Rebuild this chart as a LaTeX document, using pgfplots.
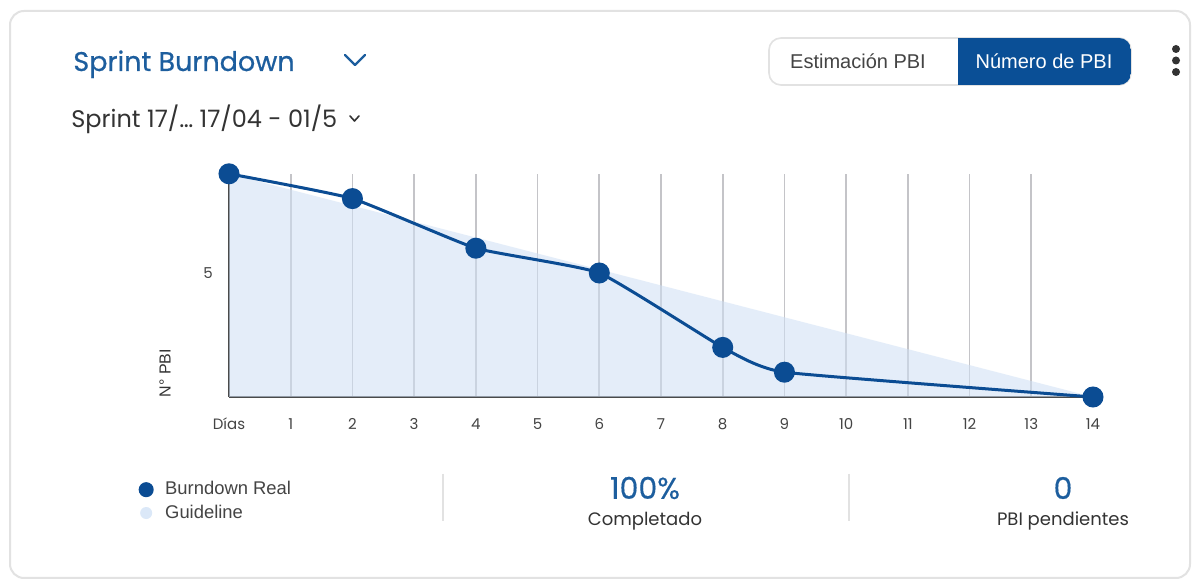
\documentclass[border=0pt]{standalone}
\usepackage{pgfplots}
\pgfplotsset{compat=1.18}
\usepackage{fontspec}
\setmainfont{Poppins}
\newfontfamily\arial{Liberation Sans}
\definecolor{realblue}{HTML}{0B4C93}
\definecolor{titleblue}{HTML}{1D5E9E}
\definecolor{toggleblue}{HTML}{0A4F96}
\definecolor{guidefill}{HTML}{CFE0F5}
\definecolor{gridgray}{HTML}{C4C4C8}
\definecolor{axisgray}{HTML}{4A4A4A}
\definecolor{txtgray}{HTML}{444444}
\definecolor{darktxt}{HTML}{333333}
\definecolor{cardline}{HTML}{E2E2E2}

\begin{document}
\begin{tikzpicture}[x=0.5pt,y=0.5pt]
\path[use as bounding box] (0,0) rectangle (1194,-581);
\fill[white] (0,0) rectangle (1194,-581);
\draw[cardline, line width=1pt, rounded corners=7pt] (10,-11) rectangle (1190,-578);

% header
\node[anchor=base west, inner sep=0, text=titleblue, font=\fontsize{13.5}{16}\selectfont\addfontfeature{FakeBold=0.6}] at (73,-71) {Sprint Burndown};
\draw[titleblue, line width=1.1pt, line cap=round, line join=round] (345,-55) -- (355,-65) -- (365,-55);
\node[anchor=base west, inner sep=0, text=darktxt, font=\fontsize{12}{14}\selectfont] at (71,-128) {Sprint 17/… 17/04 - 01/5};
\draw[darktxt, line width=0.8pt, line cap=round, line join=round] (350,-116) -- (354.5,-121) -- (359,-116);

% toggle
\draw[cardline, line width=0.8pt, rounded corners=6pt, fill=white] (769,-38) rectangle (1131,-85);
\begin{scope}
  \clip[rounded corners=6pt] (769,-38) rectangle (1131,-85);
  \fill[toggleblue] (958,-38) rectangle (1131,-85);
\end{scope}
\node[text=txtgray, font=\arial\fontsize{10}{12}\selectfont] at (858,-61) {Estimación PBI};
\node[text=white, font=\arial\fontsize{10}{12}\selectfont] at (1044,-61) {Número de PBI};
\fill[darktxt] (1176,-49) circle (2pt) (1176,-60.5) circle (2pt) (1176,-72) circle (2pt);

% summary
\draw[cardline, line width=0.8pt] (443,-474) -- (443,-521) (849,-474) -- (849,-521);
\node[text=titleblue, font=\fontsize{15}{18}\selectfont\addfontfeature{FakeBold=0.4}] at (645,-488) {100\%};
\node[text=darktxt, font=\fontsize{9}{11}\selectfont] at (645,-521) {Completado};
\node[text=titleblue, font=\fontsize{15}{18}\selectfont\addfontfeature{FakeBold=0.4}] at (1063,-488) {0};
\node[text=darktxt, font=\fontsize{9}{11}\selectfont] at (1063,-521) {PBI pendientes};

\node[rotate=90, text=darktxt, font=\arial\fontsize{8}{10}\selectfont] at (165,-373) {N° PBI};

\begin{axis}[
  at={(114.5pt,-198.5pt)}, anchor=south west,
  scale only axis, width=432pt, height=111.6pt,
  xmin=0, xmax=14, ymin=0, ymax=9, clip=false,
  axis lines*=left,
  axis line style={axisgray, line width=0.9pt},
  major tick length=0,
  xtick={1,...,13},
  extra x ticks={0,14}, extra x tick labels={Días,14},
  extra x tick style={grid=none},
  xmajorgrids, grid style={gridgray, line width=0.8pt},
  ytick={5},
  ticklabel style={font=\fontsize{7.5}{9}\selectfont, text=txtgray},
  xticklabel style={anchor=center, yshift=-13.5pt},
  yticklabel style={anchor=center, xshift=-10.5pt},
  /pgf/number format/assume math mode=true,
  reverse legend,
  legend cell align=left,
  legend style={draw=none, fill=none, inner sep=0pt,
    at={(-0.105,-0.359)}, anchor=north west,
    font=\arial\fontsize{9.2}{11}\selectfont, text=txtgray,
    row sep=-0.5pt},
]
\addplot[draw=none, fill=guidefill, fill opacity=0.55,
  legend image code/.code={\fill[guidefill!75, fill opacity=1] (0,0) circle (3pt); \path[draw=none, fill=none] (-3pt,0) -- (7.5pt,0);}]
  coordinates {(0,9) (14,0)} \closedcycle;
\addlegendentry{Guideline}
\addplot[realblue, line width=1.5pt, mark=*, mark size=4.5pt, smooth, tension=0.25,
  legend image code/.code={\fill[realblue] (0,0) circle (3pt); \path[draw=none, fill=none] (-3pt,0) -- (7.5pt,0);}]
  coordinates {(0,9) (2,8) (4,6) (6,5) (8,2) (9,1) (14,0)};
\addlegendentry{Burndown Real}
\end{axis}
\end{tikzpicture}
\end{document}
